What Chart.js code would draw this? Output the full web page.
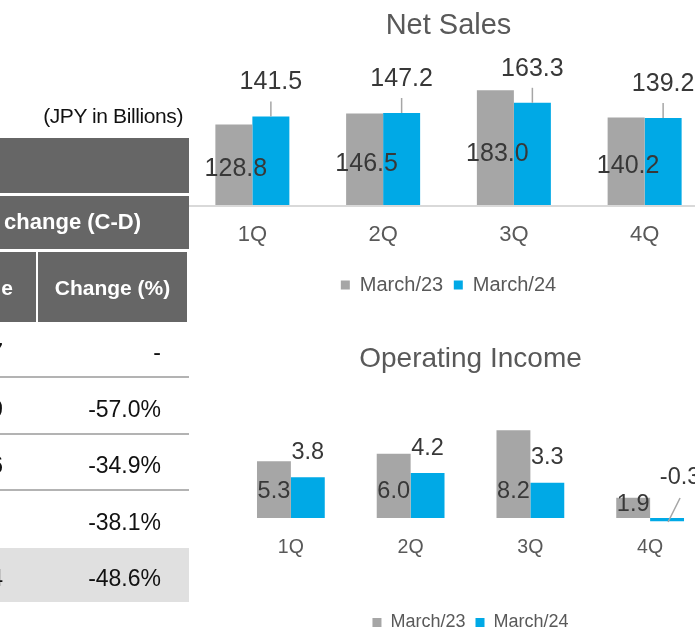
<!DOCTYPE html>
<html>
<head>
<meta charset="utf-8">
<script src="https://cdn.jsdelivr.net/npm/chart.js@4.4.1/dist/chart.umd.min.js"></script>
<style>
  html, body { margin: 0; padding: 0; width: 695px; height: 630px; overflow: hidden; background: #fff; }
  body { position: relative; font-family: "Liberation Sans", Arial, sans-serif; }
  canvas { position: absolute; }
  #table { position: absolute; left: 0; top: 0; width: 190px; height: 630px; z-index: 2; }
  .unit { position: absolute; left: 0; width: 183px; top: 104px; text-align: right; font-size: 21px; letter-spacing: -0.4px; color: #111; }
  .hd { position: absolute; background: #666; color: #fff; font-weight: bold; font-size: 21px; }
  .row { position: absolute; left: 0; width: 189px; height: 56px; box-sizing: border-box; font-size: 23px; color: #111; }
  .row span { position: absolute; top: 17px; white-space: nowrap; }
</style>
</head>
<body>
<div id="table"></div>
<canvas id="chartSales" width="523" height="310" style="left:187px;top:0"></canvas>
<canvas id="chartOp" width="479" height="325" style="left:231px;top:320px"></canvas>
<script>
const FONT = '"Liberation Sans", Arial, sans-serif';

// dados dos gráficos
const quarters    = ['1Q', '2Q', '3Q', '4Q'];
const seriesNames = ['March/23', 'March/24'];
const salesPrev   = [128.8, 146.5, 183.0, 140.2];
const salesCurr   = [141.5, 147.2, 163.3, 139.2];
const opPrev      = [5.3, 6.0, 8.2, 1.9];
const opCurr      = [3.8, 4.2, 3.3, -0.3];

// tabela (cortada à esquerda)
const leftCol   = ['7', '9', '6', '', '4'];
const changePct = ['-', '-57.0%', '-34.9%', '-38.1%', '-48.6%'];

const GRAY = '#a6a6a6';
const BLUE = '#00a9e6';

function buildTable() {
  const t = document.getElementById('table');
  t.innerHTML = `
    <div class="unit">(JPY in Billions)</div>
    <div class="hd" style="left:0;top:138px;width:189px;height:55px"></div>
    <div class="hd" style="left:0;top:196px;width:189px;height:53px;font-size:22px">
      <span style="position:absolute;right:48px;top:13px;white-space:nowrap">Amount of change (C-D)</span>
    </div>
    <div class="hd" style="left:0;top:252px;width:36px;height:70px">
      <span style="position:absolute;right:23px;top:24px;white-space:nowrap">Value</span>
    </div>
    <div class="hd" style="left:38px;top:252px;width:149px;height:70px;text-align:center;line-height:72px">Change (%)</div>`;

  changePct.forEach((pct, i) => {
    const top = 322 + i * 56.5;
    const last = i === changePct.length - 1;
    const style = last
      ? `top:${top}px;background:#e0e0e0;height:54px`
      : `top:${top}px;${i < 3 ? 'border-bottom:2px solid #b3b3b3' : ''}`;
    t.innerHTML += `
      <div class="row" style="${style}">
        <span style="right:186px">${leftCol[i]}</span>
        <span style="right:28px">${pct}</span>
      </div>`;
  });
}

// rótulos de dados estilo Excel
const barLabels = {
  id: 'barLabels',
  afterDatasetsDraw(chart, args, opts) {
    const ctx = chart.ctx;
    const base = chart.scales.y.getPixelForValue(0);
    ctx.save();
    ctx.font = `${opts.size}px ${FONT}`;
    ctx.fillStyle = '#383838';
    ctx.textAlign = 'center';
    ctx.textBaseline = 'middle';
    ctx.strokeStyle = '#a6a6a6';
    ctx.lineWidth = 1.5;

    const prev = chart.data.datasets[0].data;
    chart.getDatasetMeta(0).data.forEach((bar, i) => {
      const h = base - bar.y;
      const y = base - Math.min(opts.prevMax, h * opts.prevFrac);
      ctx.fillText(prev[i].toFixed(1), bar.x + opts.prevDx, y);
    });

    const curr = chart.data.datasets[1].data;
    chart.getDatasetMeta(1).data.forEach((bar, i) => {
      const v = curr[i];
      let x = bar.x;
      let y = bar.y - opts.currGap;
      if (v < 0) {
        x = bar.x + 13;
        y = base - 40;
        ctx.beginPath();
        ctx.moveTo(x, y + 20);
        ctx.lineTo(bar.x + 1, base + 4);
        ctx.stroke();
      } else if (opts.leader) {
        ctx.beginPath();
        ctx.moveTo(bar.x, bar.y - opts.leader);
        ctx.lineTo(bar.x, bar.y);
        ctx.stroke();
      }
      ctx.fillText(v.toFixed(1), x, y);
    });
    ctx.restore();
  },
};

function buildBarChart(id, title, prev, curr, cfg) {
  return new Chart(document.getElementById(id), {
    type: 'bar',
    data: {
      labels: quarters,
      datasets: [
        { label: seriesNames[0], data: prev, backgroundColor: GRAY, borderWidth: 0 },
        { label: seriesNames[1], data: curr, backgroundColor: BLUE, borderWidth: 0 },
      ],
    },
    plugins: [barLabels],
    options: {
      responsive: false,
      animation: false,
      devicePixelRatio: 1,
      layout: { padding: { top: 0, left: 0, right: 0, bottom: cfg.padBottom } },
      datasets: { bar: { barPercentage: 1, categoryPercentage: 0.566 } },
      plugins: {
        tooltip: { enabled: false },
        title: {
          display: true, text: title, color: '#595959',
          font: { size: cfg.titleSize, weight: 'normal', family: FONT },
          padding: { top: cfg.titleTop, bottom: cfg.titleBottom },
        },
        legend: {
          position: 'bottom',
          labels: {
            color: '#595959', boxWidth: 9, boxHeight: 9, padding: cfg.legendPad,
            font: { size: cfg.legendSize, family: FONT },
          },
        },
        barLabels: cfg.labels,
      },
      scales: {
        x: {
          grid: { display: false, drawTicks: false },
          border: { display: false },
          ticks: { color: '#595959', padding: cfg.tickPad, font: { size: cfg.tickSize, family: FONT } },
          afterFit: s => { s.height += cfg.axisExtra; },
        },
        y: {
          min: cfg.min, max: cfg.max,
          grid: { drawTicks: false, lineWidth: 2, color: c => (c.tick.value === 0 ? '#d9d9d9' : 'transparent') },
          border: { display: false },
          ticks: { display: false, stepSize: cfg.step },
        },
      },
    },
  });
}

buildTable();

buildBarChart('chartSales', 'Net Sales', salesPrev, salesCurr, {
  min: 0, max: 200, step: 50,
  titleSize: 29, titleTop: 8.1, titleBottom: 36.7,
  tickSize: 22, tickPad: 16, axisExtra: 0,
  legendSize: 20, legendPad: 10.6, padBottom: 5,
  labels: { size: 25, prevFrac: 0.45, prevMax: 999, prevDx: 2, currGap: 34, leader: 15 },
});

buildBarChart('chartOp', 'Operating Income', opPrev, opCurr, {
  min: -0.5, max: 10, step: 1,
  titleSize: 28, titleTop: 22.2, titleBottom: 35.2,
  tickSize: 19.5, tickPad: 12.95, axisExtra: 30.85,
  legendSize: 18, legendPad: 10, padBottom: 3.5,
  labels: { size: 23.5, prevFrac: 0.65, prevMax: 26, prevDx: 0, currGap: 25, leader: 0 },
});
</script>
</body>
</html>
